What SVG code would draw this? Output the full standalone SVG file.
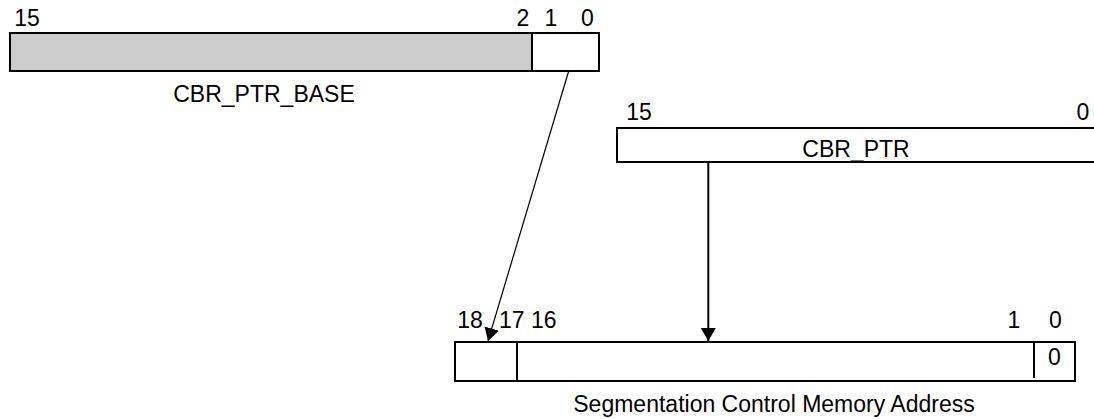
<svg xmlns="http://www.w3.org/2000/svg" width="1094" height="419" viewBox="0 0 1094 419">
<style>
text{font-family:"Liberation Sans",Arial,sans-serif;font-size:23px;fill:#000}
.box{stroke:#000;stroke-width:2;fill:#fff}
.gray{fill:#cccccc}
.m{text-anchor:middle}
.conn{stroke:#000;fill:none}
</style>
<defs>
<marker id="ah" markerUnits="userSpaceOnUse" markerWidth="14" markerHeight="16" refX="13" refY="7.5" orient="auto" viewBox="0 0 14 16">
<path d="M0,0 L13,7.5 L0,15 z" fill="#000"/>
</marker>
</defs>
<g id="cbr_ptr_base">
<rect class="box" x="10" y="33" width="589" height="38"/>
<rect class="box gray" x="10" y="33" width="522" height="38"/>
<text class="m" x="27" y="26">15</text>
<text class="m" x="523" y="26">2</text>
<text class="m" x="551" y="26">1</text>
<text class="m" x="587.5" y="26">0</text>
<text class="m" x="264" y="102">CBR_PTR_BASE</text>
</g>
<g id="cbr_ptr">
<rect class="box" x="617" y="128" width="490" height="34"/>
<text class="m" x="639" y="119.5">15</text>
<text class="m" x="1083" y="119.5">0</text>
<text class="m" x="856" y="157">CBR_PTR</text>
</g>
<g id="seg_addr">
<rect class="box" x="455" y="342" width="620" height="39"/>
<line class="conn" x1="517" y1="342" x2="517" y2="381" stroke-width="2"/>
<line class="conn" x1="1034" y1="342" x2="1034" y2="378" stroke-width="2"/>
<text class="m" x="1054.5" y="365">0</text>
<text class="m" x="470" y="328">18</text>
<text x="499" y="328">17 16</text>
<text class="m" x="1014" y="328">1</text>
<text class="m" x="1055.5" y="328">0</text>
<text class="m" x="774" y="412">Segmentation Control Memory Address</text>
</g>
<g id="connectors">
<line class="conn" x1="569" y1="70" x2="488" y2="341" stroke-width="1.2" marker-end="url(#ah)"/>
<line class="conn" x1="708.3" y1="162" x2="708.3" y2="341" stroke-width="2" marker-end="url(#ah)"/>
</g>
</svg>
